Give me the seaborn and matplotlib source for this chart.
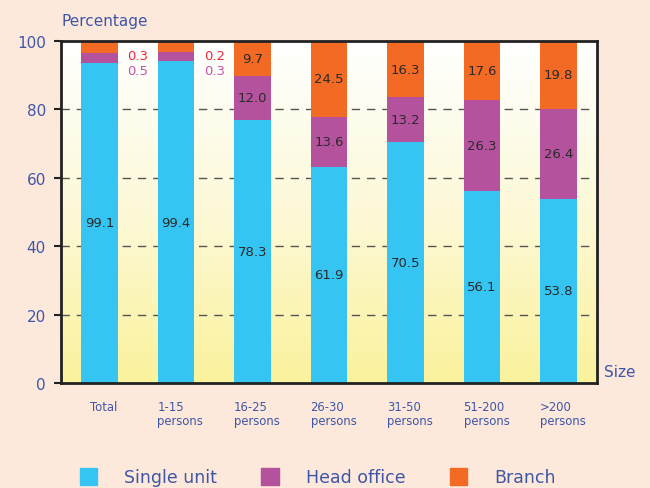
import numpy as np
import pandas as pd
import matplotlib
matplotlib.use("Agg")
import matplotlib.pyplot as plt
import matplotlib.transforms as mtransforms
from matplotlib.colors import LinearSegmentedColormap
from matplotlib.patches import Patch
import seaborn as sns

categories = ["Total", "1-15\npersons", "16-25\npersons", "26-30\npersons",
              "31-50\npersons", "51-200\npersons", ">200\npersons"]
# bar segment heights as drawn in the picture
single_h = [93.7, 94.0, 76.9, 63.2, 70.5, 56.2, 53.8]
head_h = [2.9, 2.8, 12.9, 14.7, 13.1, 26.5, 26.4]
branch_h = [3.4, 3.2, 10.2, 22.1, 16.4, 17.3, 19.8]
# printed labels
single_lbl = ["99.1", "99.4", "78.3", "61.9", "70.5", "56.1", "53.8"]
head_lbl = ["0.5", "0.3", "12.0", "13.6", "13.2", "26.3", "26.4"]
branch_lbl = ["0.3", "0.2", "9.7", "24.5", "16.3", "17.6", "19.8"]
yticks = [0, 20, 40, 60, 80, 100]

C_SINGLE = "#36c5f2"
C_HEAD = "#b5529e"
C_BRANCH = "#f26a24"
BLUE_TXT = "#3f56a6"
BG = "#fde8dc"

sns.set_style("white")
plt.rcParams["font.family"] = ["DejaVu Sans"]

df = pd.DataFrame({"cat": categories, "single": single_h, "head": head_h, "branch": branch_h})
df["c1"] = df["single"]
df["c2"] = df["single"] + df["head"]
df["c3"] = df["c2"] + df["branch"]

fig = plt.figure(figsize=(6.5, 4.89), dpi=100, facecolor=BG)
ax = fig.add_axes([0.094, 0.2147, 0.824, 0.6995])

# gradient background
cmap = LinearSegmentedColormap.from_list("bg", ["#faf29c", "#fdf9d8", "#ffffff"])
grad = np.linspace(0, 1, 256).reshape(-1, 1)
ax.imshow(grad, aspect="auto", cmap=cmap, origin="lower",
          extent=[0, 1, 0, 1], transform=ax.transAxes, zorder=0)

for col, c in [("c3", C_BRANCH), ("c2", C_HEAD), ("c1", C_SINGLE)]:
    sns.barplot(data=df, x="cat", y=col, color=c, width=0.48, saturation=1,
                ax=ax, zorder=3, edgecolor="none", linewidth=0)

ax.set_xlim(-0.5, 6.5)
ax.set_ylim(0, 100)

for yv in [20, 40, 60, 80]:
    ax.axhline(yv, color="#555555", lw=1.0, ls=(0, (6, 5)), zorder=1)

for i in range(len(categories)):
    s, h, b = single_h[i], head_h[i], branch_h[i]
    ax.text(i, s / 2, single_lbl[i], ha="center", va="center", fontsize=9.5,
            color="#2a2a2a", zorder=5)
    if h > 6:
        ax.text(i, s + h / 2, head_lbl[i], ha="center", va="center", fontsize=9.5,
                color="#2a2a2a", zorder=5)
        ax.text(i, s + h + b / 2, branch_lbl[i], ha="center", va="center",
                fontsize=9.5, color="#2a2a2a", zorder=5)
    else:
        ax.text(i + 0.5, 95.8, branch_lbl[i], ha="center", va="center",
                fontsize=9.5, color="#ee2a3a", zorder=5)
        ax.text(i + 0.5, 91.3, head_lbl[i], ha="center", va="center",
                fontsize=9.5, color="#c058a8", zorder=5)

ax.set_yticks(yticks)
ax.set_yticklabels([str(v) for v in yticks], color=BLUE_TXT, fontsize=11)
ax.tick_params(axis="y", length=5, width=1.5, color="#222222", pad=6, left=True)
ax.tick_params(axis="x", length=0, pad=12, labelsize=8.4, labelcolor=BLUE_TXT)
shift = mtransforms.ScaledTranslation(0.045, 0, fig.dpi_scale_trans)
for lbl in ax.get_xticklabels():
    lbl.set_multialignment("left")
    lbl.set_linespacing(1.12)
    lbl.set_transform(lbl.get_transform() + shift)
ax.set_xlabel("")
ax.set_ylabel("")
for sp in ax.spines.values():
    sp.set_visible(True)
    sp.set_color("#222222")
    sp.set_linewidth(2)
    sp.set_zorder(6)

fig.text(0.095, 0.957, "Percentage", color=BLUE_TXT, fontsize=11, ha="left", va="center")
fig.text(0.929, 0.239, "Size", color=BLUE_TXT, fontsize=11, ha="left", va="center")

handles = [Patch(color=C_SINGLE, label="Single unit"),
           Patch(color=C_HEAD, label="Head office"),
           Patch(color=C_BRANCH, label="Branch")]
leg = fig.legend(handles=handles, loc="center left", bbox_to_anchor=(80 / 650, 0.022),
                 ncol=3, frameon=False, fontsize=12.5, handlelength=1.0,
                 handleheight=1.1, handletextpad=1.55, columnspacing=2.55,
                 borderpad=0, borderaxespad=0)
for t in leg.get_texts():
    t.set_color(BLUE_TXT)

fig.savefig("out.png", dpi=100, facecolor=BG)
